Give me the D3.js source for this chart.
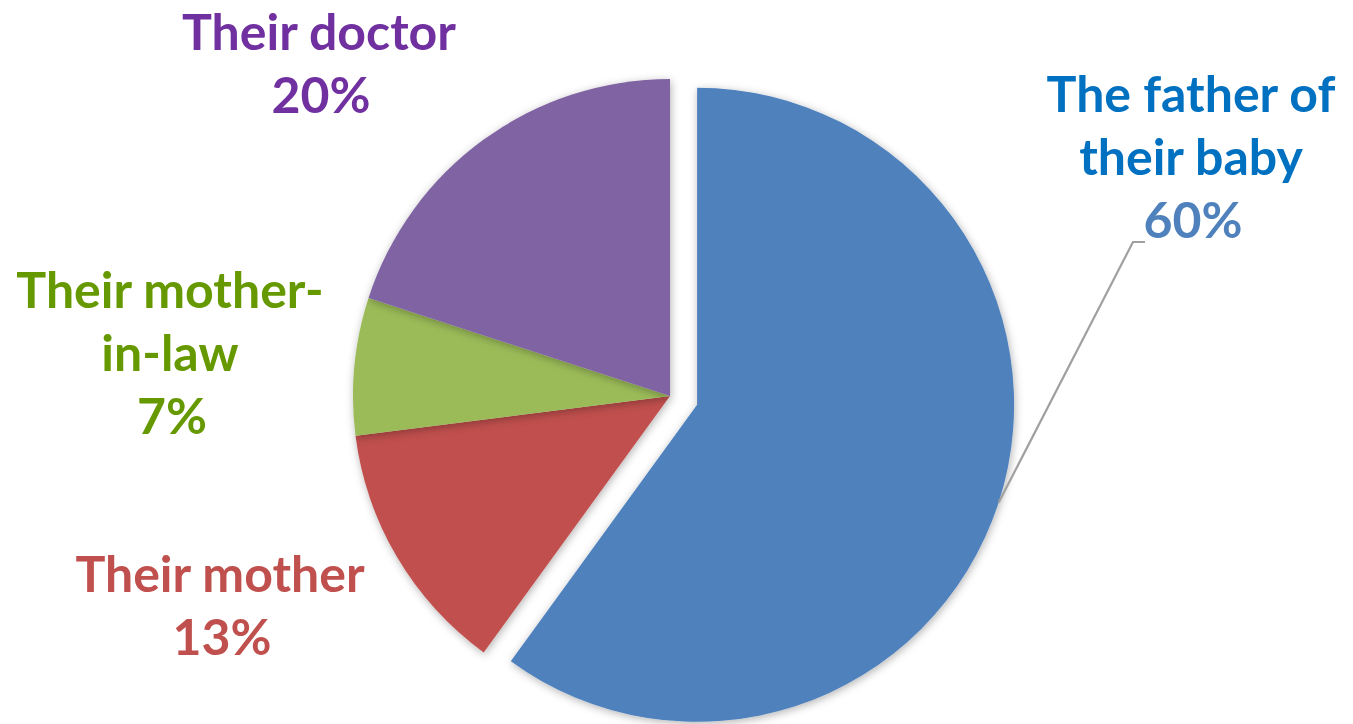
<!DOCTYPE html>
<html>
<head>
<meta charset="utf-8">
<script src="https://cdn.jsdelivr.net/npm/d3@7"></script>
<style>
  html, body { margin: 0; padding: 0; background: #fff; }
  svg { display: block; }
  text { font-family: Lato, "Open Sans", sans-serif; font-weight: 700; }
</style>
</head>
<body>
<svg id="chart" width="1353" height="724"></svg>
<script>
// ---- data ----
const categories = ["The father of their baby", "Their mother", "Their mother-in-law", "Their doctor"];
const values = [60, 13, 7, 20];
const labelLines = [["The father of", "their baby"], ["Their mother"], ["Their mother-", "in-law"], ["Their doctor"]];
const percentLabels = ["60%", "13%", "7%", "20%"];
const sliceColors = ["#4F81BD", "#C0504D", "#9BBB59", "#8064A2"];
const titleColors = ["#0070C0", "#C0504D", "#669900", "#7030A0"];
const percentColors = ["#4F81BD", "#C0504D", "#669900", "#7030A0"];

// ---- layout ----
const cx = 670, cy = 396, radius = 317, explode = 28.5;
const labelAnchors = [[1191, 112], [220, 592], [170, 308], [319, 50]];
const lineGap = 63;
const fontSize = 50;

const svg = d3.select("#chart");
const defs = svg.append("defs");
const f = defs.append("filter").attr("id", "shadow")
  .attr("x", "-10%").attr("y", "-10%").attr("width", "120%").attr("height", "120%");
f.append("feDropShadow").attr("dx", 1).attr("dy", 2).attr("stdDeviation", 4)
  .attr("flood-color", "#000").attr("flood-opacity", 0.3);

const pie = d3.pie().sort(null).value(d => d)(values);
const arc = d3.arc().innerRadius(0).outerRadius(radius);

const g = svg.append("g").attr("transform", `translate(${cx},${cy})`);
g.selectAll("path").data(pie).join("path")
  .attr("d", arc)
  .attr("fill", (d, i) => sliceColors[i])
  .attr("filter", "url(#shadow)")
  .attr("transform", (d, i) => {
    if (i !== 0) return null;
    const a = (d.startAngle + d.endAngle) / 2;
    return `translate(${explode * Math.sin(a)},${-explode * Math.cos(a)})`;
  });

// leader line for the exploded slice
{
  const d = pie[0];
  const a = (d.startAngle + d.endAngle) / 2;
  const ox = cx + explode * Math.sin(a), oy = cy - explode * Math.cos(a);
  const sx = ox + radius * Math.sin(a), sy = oy - radius * Math.cos(a);
  const [lx, ly] = labelAnchors[0];
  const kx = lx - 58, ky = ly + 2 * lineGap + 4;
  svg.append("polyline")
    .attr("points", `${sx},${sy} ${kx},${ky} ${kx + 12},${ky}`)
    .attr("fill", "none").attr("stroke", "#A0A0A0").attr("stroke-width", 2.2);
}

// labels
categories.forEach((c, i) => {
  const [x, y] = labelAnchors[i];
  const t = svg.append("text").attr("text-anchor", "middle").attr("font-size", fontSize);
  labelLines[i].forEach((ln, j) => {
    t.append("tspan").attr("x", x).attr("y", y + j * lineGap).attr("fill", titleColors[i]).text(ln);
  });
  t.append("tspan").attr("x", x + 2).attr("y", y + labelLines[i].length * lineGap)
    .attr("fill", percentColors[i]).text(percentLabels[i]);
});
</script>
</body>
</html>
